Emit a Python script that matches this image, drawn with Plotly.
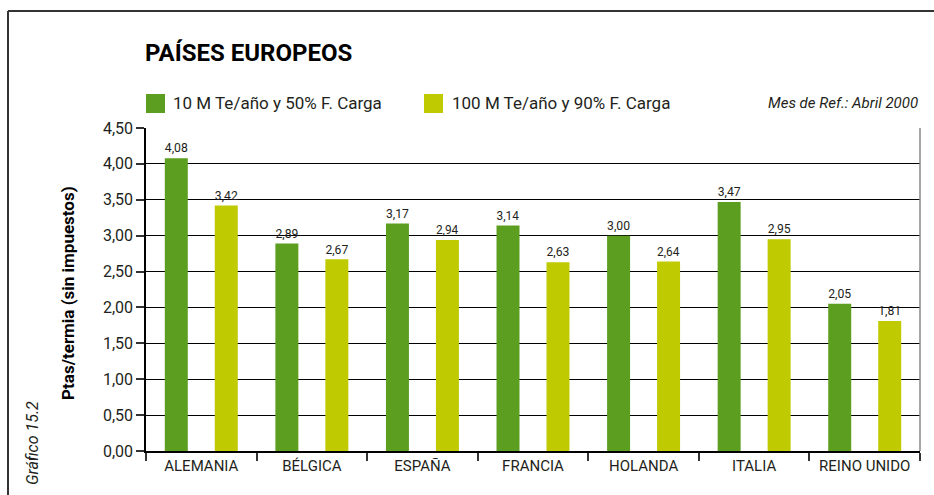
import plotly.graph_objects as go

# Gas prices by country, two consumption profiles (Ptas/termia, tax excluded)
paises = ["ALEMANIA", "BÉLGICA", "ESPAÑA", "FRANCIA", "HOLANDA", "ITALIA", "REINO UNIDO"]
serie_10m = [4.08, 2.89, 3.17, 3.14, 3.00, 3.47, 2.05]
serie_100m = [3.42, 2.67, 2.94, 2.63, 2.64, 2.95, 1.81]
nombre_10m = "10 M Te/año y 50% F. Carga"
nombre_100m = "100 M Te/año y 90% F. Carga"
y_ticks = [0, 0.5, 1, 1.5, 2, 2.5, 3, 3.5, 4, 4.5]

W, H = 934, 495
ML, MR, MT, MB = 146, 14, 128, 44
PW, PH = W - ML - MR, H - MT - MB

def px(x):
    return (x - ML) / PW

def py(y):
    return (H - MB - y) / PH

FONT = "Roboto, Liberation Sans, sans-serif"
VERDE = "#5c9e1f"
AMARILLO = "#bfcb00"
TXT = "#231f20"

fig = go.Figure()
for nombre, vals, color in [(nombre_10m, serie_10m, VERDE), (nombre_100m, serie_100m, AMARILLO)]:
    fig.add_trace(go.Bar(
        x=paises, y=vals, name=nombre, marker=dict(color=color, line=dict(width=0)),
        texttemplate="%{y:.2f}", textposition="outside", cliponaxis=False,
        textfont=dict(family=FONT, size=13, color=TXT), showlegend=False,
    ))

shapes = [
    # outer frame (top and left edges)
    dict(type="line", xref="paper", yref="paper", x0=px(8), x1=px(W + 5), y0=py(11), y1=py(11),
         line=dict(color="#333333", width=2)),
    dict(type="line", xref="paper", yref="paper", x0=px(8), x1=px(8), y0=py(11), y1=py(H + 5),
         line=dict(color="#333333", width=2)),
    # right edge of plot area
    dict(type="line", xref="paper", yref="paper", x0=1, x1=1, y0=0, y1=1,
         line=dict(color="#888888", width=1.5)),
    # legend swatches
    dict(type="rect", xref="paper", yref="paper", x0=px(146), x1=px(165), y0=py(113), y1=py(94),
         fillcolor=VERDE, line=dict(width=0)),
    dict(type="rect", xref="paper", yref="paper", x0=px(424), x1=px(443), y0=py(113), y1=py(94),
         fillcolor=AMARILLO, line=dict(width=0)),
]

annotations = [
    dict(text="<b>PAÍSES EUROPEOS</b>", x=px(143), y=py(53), xref="paper", yref="paper",
         xanchor="left", yanchor="middle", showarrow=False,
         font=dict(family=FONT, size=24, color="#000000")),
    dict(text=nombre_10m, x=px(171), y=py(103), xref="paper", yref="paper",
         xanchor="left", yanchor="middle", showarrow=False,
         font=dict(family=FONT, size=17, color=TXT)),
    dict(text=nombre_100m, x=px(450), y=py(103), xref="paper", yref="paper",
         xanchor="left", yanchor="middle", showarrow=False,
         font=dict(family=FONT, size=17, color=TXT)),
    dict(text="<i>Mes de Ref.: Abril 2000</i>", x=px(920), y=py(103), xref="paper", yref="paper",
         xanchor="right", yanchor="middle", showarrow=False,
         font=dict(family=FONT, size=15, color=TXT)),
    dict(text="<b>Ptas/termia (sin impuestos)</b>", x=px(68), y=py(293), xref="paper", yref="paper",
         xanchor="center", yanchor="middle", textangle=-90, showarrow=False,
         font=dict(family=FONT, size=17, color="#000000")),
    dict(text="<i>Gráfico 15.2</i>", x=px(32), y=py(443), xref="paper", yref="paper",
         xanchor="center", yanchor="middle", textangle=-90, showarrow=False,
         font=dict(family=FONT, size=16, color=TXT)),
]

fig.update_layout(
    width=W, height=H,
    margin=dict(l=ML, r=MR, t=MT, b=MB, pad=0),
    paper_bgcolor="white", plot_bgcolor="white",
    barmode="group", bargap=0.096, bargroupgap=0.54,
    separators=",.",
    shapes=shapes, annotations=annotations,
    font=dict(family=FONT, color=TXT),
)
fig.update_xaxes(
    type="category", tickson="boundaries", ticks="outside", ticklen=8, tickwidth=1.5,
    tickcolor="#333333", showline=True, linecolor="#000000", linewidth=1.5,
    tickfont=dict(family=FONT, size=15, color=TXT), showgrid=False,
    tickangle=0, automargin=False,
)
fig.update_yaxes(
    range=[0, 4.5], tickvals=y_ticks, tickformat=".2f", ticks="outside", ticklen=8,
    tickwidth=1.5, tickcolor="#333333", showline=True, linecolor="#000000", linewidth=1.5,
    showgrid=True, gridcolor="#000000", gridwidth=1.2, zeroline=False,
    tickfont=dict(family=FONT, size=16, color=TXT), automargin=False,
)

fig.write_html("out.html")
